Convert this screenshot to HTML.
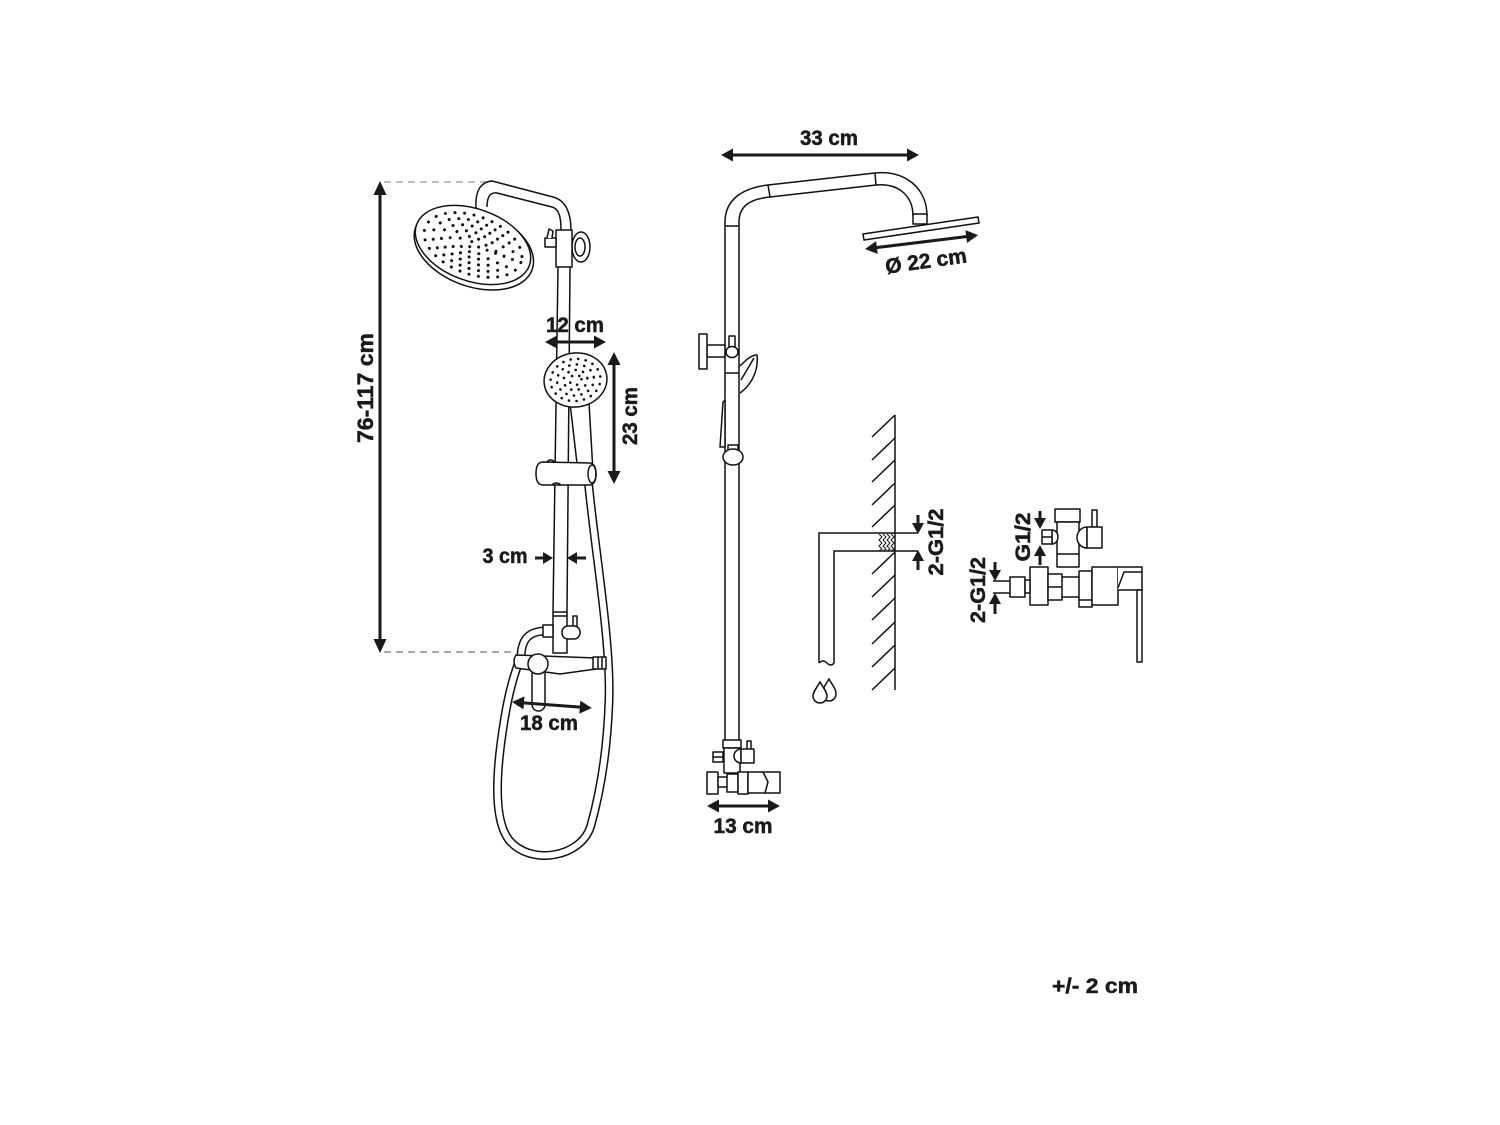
<!DOCTYPE html>
<html><head><meta charset="utf-8"><style>
html,body{margin:0;padding:0;background:#fff;}
svg{display:block}
text{font-family:"Liberation Sans",sans-serif;font-weight:bold;font-size:21px;fill:#1a1a1a;stroke:#1a1a1a;stroke-width:0.5}
</style></head><body>
<svg width="1500" height="1125" viewBox="0 0 1500 1125" xmlns="http://www.w3.org/2000/svg">
<rect width="1500" height="1125" fill="#fff"/>

<!-- ============ LEFT FIGURE ============ -->
<g fill="none" stroke="#111" stroke-width="1.5" stroke-linejoin="round">
  <line x1="384" y1="182" x2="486" y2="182" stroke="#999" stroke-dasharray="7 5" stroke-width="1.2"/>
  <line x1="384" y1="652" x2="516" y2="652" stroke="#777" stroke-dasharray="7 5" stroke-width="1.2"/>

  <!-- arm -->
  <path d="M476,208 C475,192 480,182 492,181 L553,197 C565,200 571,212 571,230"/>
  <path d="M487,207 C487,197 490,192 497,193 L552,207 C559,209 561,217 561,230"/>
  <!-- bracket -->
  <ellipse cx="581" cy="247" rx="9" ry="15" fill="#fff"/>
  <ellipse cx="580" cy="247" rx="5" ry="9"/>
  <rect x="556" y="230" width="16" height="37" fill="#fff"/>
  <rect x="545" y="238" width="11" height="9" fill="#fff"/>
  <path d="M547,238 L549,229 L553,231 L552,238" fill="#fff"/>
  <!-- pipe -->
  <path d="M558,267 L553,612"/>
  <path d="M570,267 L567,612"/>

  <!-- head -->
  <g transform="translate(473,245) rotate(20)">
    <ellipse cx="2" cy="3" rx="62" ry="38" fill="#fff"/>
    <ellipse cx="0" cy="0" rx="60" ry="36" fill="#fff"/>
    <g stroke-width="3" stroke-dasharray="0.1 9.5" stroke-linecap="round">
      <ellipse rx="51" ry="29"/>
      <ellipse rx="42" ry="23.5"/>
      <ellipse rx="33" ry="18"/>
      <ellipse rx="24" ry="12.5"/>
      <ellipse rx="15" ry="7.5"/>
      <ellipse rx="6" ry="3"/>
    </g>
  </g>

  <!-- hose (double line) -->
  <g stroke="#111" stroke-width="9" stroke-linecap="butt">
    <path d="M588,478 C594,545 611,640 609,700 C607,760 598,800 591,825 C582,858 530,866 509,840 C492,818 497,765 504,722 C509,690 515,672 521,656"/>
    <path d="M546,631 C530,631 521,638 521,658"/>
  </g>
  <g stroke="#fff" stroke-width="6" stroke-linecap="butt">
    <path d="M588,478 C594,545 611,640 609,700 C607,760 598,800 591,825 C582,858 530,866 509,840 C492,818 497,765 504,722 C509,690 515,672 521,656"/>
    <path d="M546,631 C530,631 521,638 521,658"/>
  </g>

  <!-- hand shower -->
  <path d="M570,403 L578,472 L593,472 L589,403 Z" fill="#fff"/>
  <g transform="translate(575.5,380) rotate(-8)">
    <ellipse rx="31.5" ry="27" fill="#fff"/>
    <g stroke-width="2.6" stroke-dasharray="0.1 7.5" stroke-linecap="round">
      <ellipse rx="25" ry="21"/>
      <ellipse rx="18.5" ry="15.5"/>
      <ellipse rx="12" ry="10"/>
      <ellipse rx="6" ry="5"/>
    </g>
  </g>
  <!-- holder -->
  <path d="M543,462 L590,463 Q596,464 596,474 Q596,484 590,485 L543,485 Q536,485 536,473.5 Q536,462 543,462 Z" fill="#fff"/>
  <ellipse cx="592" cy="474" rx="4" ry="9"/>
  <path d="M547,462 Q550,458 555,462"/>
  <path d="M552,485 Q556,481 561,485"/>

  <!-- mixer -->
  <rect x="553" y="612" width="14" height="41" fill="#fff"/>
  <line x1="553" y1="616" x2="567" y2="616"/>
  <rect x="573" y="616" width="4" height="12" fill="#fff"/>
  <rect x="562" y="626" width="18" height="13" rx="6" fill="#fff"/>
  <rect x="543" y="625" width="10" height="12" fill="#fff"/>
  <path d="M516,655 L596,658 L596,669 L560,674 L516,668 Q512,661 516,655 Z" fill="#fff"/>
  <rect x="593" y="657" width="13" height="12" fill="#fff"/>
  <line x1="598" y1="657" x2="598" y2="669"/>
  <line x1="602" y1="657" x2="602" y2="669"/>
  <rect x="532" y="662" width="13" height="49" rx="6.5" fill="#fff"/>
  <circle cx="538" cy="664" r="10" fill="#fff"/>
</g>

<!-- left arrows -->
<g fill="#1a1a1a" stroke="none">
  <rect x="378.5" y="192" width="3" height="450"/>
  <polygon points="380,181 373.5,195 386.5,195"/>
  <polygon points="380,653 373.5,639 386.5,639"/>

  <rect x="555" y="340.5" width="41" height="3"/>
  <polygon points="545,342 557,335.5 557,348.5"/>
  <polygon points="606,342 594,335.5 594,348.5"/>

  <rect x="612.5" y="362" width="3" height="112"/>
  <polygon points="614,352 607.5,365 620.5,365"/>
  <polygon points="614,484 607.5,471 620.5,471"/>

  <rect x="535" y="556.5" width="10" height="3"/>
  <polygon points="553,558 543,552 543,564"/>
  <rect x="576" y="556.5" width="10" height="3"/>
  <polygon points="567,558 577,552 577,564"/>

  <g transform="translate(512,702) rotate(4.3)">
    <rect x="10" y="-1.5" width="60" height="3"/>
    <polygon points="0,0 12,-6.5 12,6.5"/>
    <polygon points="80,0 68,-6.5 68,6.5"/>
  </g>
</g>

<text transform="translate(373,388) rotate(-90)" text-anchor="middle" textLength="110" lengthAdjust="spacingAndGlyphs" style="font-size:22px">76-117 cm</text>
<text x="575" y="332" text-anchor="middle" textLength="58" lengthAdjust="spacingAndGlyphs">12 cm</text>
<text transform="translate(637,416) rotate(-90)" text-anchor="middle" textLength="58" lengthAdjust="spacingAndGlyphs">23 cm</text>
<text x="505" y="563" text-anchor="middle" textLength="45" lengthAdjust="spacingAndGlyphs">3 cm</text>
<text x="549" y="730" text-anchor="middle" textLength="58" lengthAdjust="spacingAndGlyphs">18 cm</text>

<!-- ============ MIDDLE FIGURE ============ -->
<g fill="none" stroke="#111" stroke-width="1.5" stroke-linejoin="round">
  <path d="M725,228 L725,740"/>
  <path d="M739,228 L739,740"/>
  <path d="M725,228 L725,222 C725,200 742,188 768,185 L875,173 C905,170 927,188 927,216"/>
  <path d="M739,228 L739,222 C739,206 750,199 770,197 L876,185 C900,183 913,197 913,216"/>
  <path d="M768,185 L770,197"/>
  <path d="M875,173 L876,185"/>
  <path d="M725,226 L739,226"/>
  <rect x="913" y="214" width="14" height="10" fill="#fff"/>
  <polygon points="863,234 978,217 979,223 864,240" fill="#fff"/>

  <!-- wall mount -->
  <rect x="707" y="345" width="18" height="12" fill="#fff"/>
  <rect x="699" y="334" width="8" height="35" fill="#fff"/>
  <rect x="729" y="336" width="6" height="11" fill="#fff"/>
  <ellipse cx="732" cy="352" rx="6" ry="5.5" fill="#fff"/>
  <line x1="725" y1="373" x2="739" y2="373"/>
  <path d="M740,366 C748,358 752,355 757,355 C759,372 750,386 740,393" fill="#fff"/>
  <path d="M741,380 L754,358"/>
  <path d="M723,402 L720,447 L725,447 L725,400 Z" fill="#fff"/>
  <rect x="728" y="445" width="10" height="6" fill="#fff"/>
  <ellipse cx="733" cy="457" rx="10" ry="8" fill="#fff"/>

  <!-- bottom valve -->
  <rect x="723" y="740" width="18" height="8" fill="#fff"/>
  <rect x="724" y="748" width="16" height="25" fill="#fff"/>
  <rect x="713" y="752" width="10" height="10" fill="#fff"/>
  <line x1="713" y1="757" x2="723" y2="757"/>
  <rect x="747" y="741" width="4" height="9" fill="#fff"/>
  <path d="M741,749 A7,7 0 0 0 741,763 Z" fill="#fff"/>
  <rect x="741" y="749" width="13" height="14" fill="#fff"/>
  <rect x="707" y="772" width="11" height="22" fill="#fff"/>
  <rect x="718" y="777" width="10" height="10" fill="#fff"/>
  <rect x="727" y="774" width="11" height="18" fill="#fff"/>
  <rect x="738" y="772" width="10" height="22" fill="#fff"/>
  <rect x="748" y="772" width="32" height="21" fill="#fff"/>
  <path d="M763,772 L768,782 L765,793"/>
</g>

<g fill="#1a1a1a" stroke="none">
  <rect x="731" y="153.5" width="178" height="3"/>
  <polygon points="721,155 733,148.5 733,161.5"/>
  <polygon points="919,155 907,148.5 907,161.5"/>

  <g transform="translate(865,249) rotate(-7)">
    <rect x="10" y="-1.5" width="94" height="3"/>
    <polygon points="0,0 12,-6.5 12,6.5"/>
    <polygon points="114,0 102,-6.5 102,6.5"/>
  </g>

  <rect x="717" y="804.5" width="53" height="3"/>
  <polygon points="707,806 719,799.5 719,812.5"/>
  <polygon points="780,806 768,799.5 768,812.5"/>
</g>

<text x="829" y="145" text-anchor="middle" textLength="58" lengthAdjust="spacingAndGlyphs">33 cm</text>
<text transform="translate(927,268) rotate(-8)" text-anchor="middle" textLength="82" lengthAdjust="spacingAndGlyphs">Ø 22 cm</text>
<text x="743" y="833" text-anchor="middle" textLength="59" lengthAdjust="spacingAndGlyphs">13 cm</text>

<!-- ============ WALL FIGURE ============ -->
<g fill="none" stroke="#111" stroke-width="1.5">
  <line x1="895" y1="415" x2="895" y2="690"/>
  <line x1="895" y1="415" x2="872" y2="437"/>
  <line x1="895" y1="438" x2="872" y2="460"/>
  <line x1="895" y1="460" x2="872" y2="482"/>
  <line x1="895" y1="483" x2="872" y2="505"/>
  <line x1="895" y1="505" x2="872" y2="527"/>
  <line x1="895" y1="552" x2="872" y2="574"/>
  <line x1="895" y1="575" x2="872" y2="597"/>
  <line x1="895" y1="598" x2="872" y2="620"/>
  <line x1="895" y1="622" x2="872" y2="644"/>
  <line x1="895" y1="645" x2="872" y2="667"/>
  <line x1="895" y1="668" x2="872" y2="690"/>

  <path d="M918,533 L819,533 L819,663"/>
  <path d="M918,551 L834,551 L834,663"/>
  <path d="M819,663 Q823,659 827,663 Q831,667 834,663"/>

  <g stroke-width="1">
    <polyline points="879,534 882,537 879,540 882,543 879,546 882,549 879,551"/>
    <polyline points="883,534 886,537 883,540 886,543 883,546 886,549 883,551"/>
    <polyline points="887,534 890,537 887,540 890,543 887,546 890,549 887,551"/>
    <polyline points="891,534 894,537 891,540 894,543 891,546 894,549 891,551"/>
  </g>

  <path d="M829,679 C825,686 822,689 822,694 A7,7 0 0 0 836,694 C836,689 833,686 829,679 Z" fill="#fff"/>
  <path d="M820,682 C816,689 813,692 813,696 A7,7 0 0 0 827,696 C827,692 824,689 820,682 Z" fill="#fff"/>
</g>

<g fill="#1a1a1a" stroke="none">
  <rect x="916.5" y="515" width="3" height="10"/>
  <polygon points="918,534 912,523 924,523"/>
  <polygon points="918,550 912,561 924,561"/>
  <rect x="916.5" y="560" width="3" height="10"/>
</g>
<text transform="translate(943,542) rotate(-90)" text-anchor="middle" textLength="67" lengthAdjust="spacingAndGlyphs">2-G1/2</text>

<!-- ============ RIGHT VALVE ============ -->
<g fill="none" stroke="#111" stroke-width="1.5" stroke-linejoin="round">
  <line x1="993" y1="581" x2="1010" y2="581"/>
  <line x1="993" y1="593" x2="1010" y2="593"/>

  <rect x="1055" y="509" width="25" height="13" fill="#fff"/>
  <rect x="1057" y="522" width="22" height="45" fill="#fff"/>
  <line x1="1057" y1="554" x2="1079" y2="554"/>
  <path d="M1052,530 A6,7 0 0 1 1052,544 Z" fill="#fff"/>
  <rect x="1042" y="530" width="10" height="14" fill="#fff"/>
  <line x1="1042" y1="537" x2="1052" y2="537"/>
  <rect x="1092" y="510" width="5" height="17" fill="#fff"/>
  <path d="M1087,527 A10,10.5 0 0 0 1087,548 Z" fill="#fff"/>
  <rect x="1087" y="527" width="15" height="21" fill="#fff"/>

  <rect x="1030" y="567" width="18" height="38" fill="#fff"/>
  <rect x="1048" y="574" width="14" height="26" fill="#fff"/>
  <line x1="1048" y1="587" x2="1062" y2="587"/>
  <line x1="1062" y1="577" x2="1079" y2="577"/>
  <line x1="1062" y1="597" x2="1079" y2="597"/>
  <rect x="1079" y="571" width="13" height="36" fill="#fff"/>
  <line x1="1079" y1="600" x2="1092" y2="600"/>
  <rect x="1092" y="567" width="26" height="38" fill="#fff"/>
  <path d="M1118,567 L1142,567 L1142,590 L1118,590" fill="#fff"/>
  <path d="M1118,588 L1124,572 L1142,572"/>
  <rect x="1137" y="590" width="5" height="72" fill="#fff"/>

  <rect x="1010" y="577" width="15" height="20" fill="#fff"/>
  <rect x="1025" y="580" width="5" height="13" fill="#fff"/>
</g>

<g fill="#1a1a1a" stroke="none">
  <rect x="993.5" y="562" width="3" height="10"/>
  <polygon points="995,581 989,570 1001,570"/>
  <polygon points="995,593 989,604 1001,604"/>
  <rect x="993.5" y="603" width="3" height="11"/>

  <rect x="1038.5" y="511" width="3" height="9"/>
  <polygon points="1040,529 1034,518 1046,518"/>
  <polygon points="1040,545 1034,556 1046,556"/>
  <rect x="1038.5" y="555" width="3" height="10"/>
</g>
<text transform="translate(985,590) rotate(-90)" text-anchor="middle" textLength="66" lengthAdjust="spacingAndGlyphs">2-G1/2</text>
<text transform="translate(1030,537) rotate(-90)" text-anchor="middle" textLength="49" lengthAdjust="spacingAndGlyphs">G1/2</text>

<!-- tolerance -->
<text x="1095" y="993" text-anchor="middle" textLength="86" lengthAdjust="spacingAndGlyphs">+/- 2 cm</text>
</svg>
</body></html>
